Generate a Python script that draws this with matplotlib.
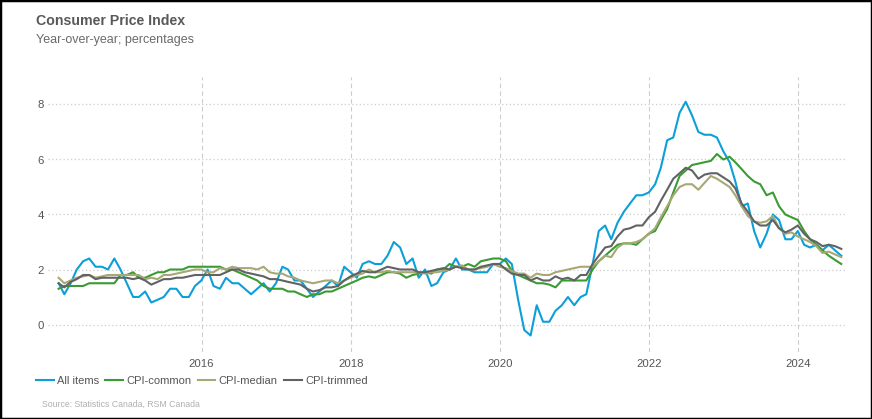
import matplotlib
matplotlib.use("Agg")
import matplotlib.pyplot as plt
import matplotlib.dates as mdates
from matplotlib.patches import Rectangle
import pandas as pd

plt.rcParams['font.family'] = ['Liberation Sans', 'DejaVu Sans']

# Monthly data, Jan 2014 - Jul 2024 (year-over-year, %)
start_month = "2014-01-31"
series_names = ["All items", "CPI-common", "CPI-median", "CPI-trimmed"]

all_items = [
    1.5, 1.1, 1.5, 2.0, 2.3, 2.4, 2.1, 2.1, 2.0, 2.4, 2.0, 1.5,
    1.0, 1.0, 1.2, 0.8, 0.9, 1.0, 1.3, 1.3, 1.0, 1.0, 1.4, 1.6,
    2.0, 1.4, 1.3, 1.7, 1.5, 1.5, 1.3, 1.1, 1.3, 1.5, 1.2, 1.5,
    2.1, 2.0, 1.6, 1.6, 1.3, 1.0, 1.2, 1.4, 1.6, 1.4, 2.1, 1.9,
    1.7, 2.2, 2.3, 2.2, 2.2, 2.5, 3.0, 2.8, 2.2, 2.4, 1.7, 2.0,
    1.4, 1.5, 1.9, 2.0, 2.4, 2.0, 2.0, 1.9, 1.9, 1.9, 2.2, 2.2,
    2.4, 2.2, 0.9, -0.2, -0.4, 0.7, 0.1, 0.1, 0.5, 0.7, 1.0, 0.7,
    1.0, 1.1, 2.2, 3.4, 3.6, 3.1, 3.7, 4.1, 4.4, 4.7, 4.7, 4.8,
    5.1, 5.7, 6.7, 6.8, 7.7, 8.1, 7.6, 7.0, 6.9, 6.9, 6.8, 6.3,
    5.9, 5.2, 4.3, 4.4, 3.4, 2.8, 3.3, 4.0, 3.8, 3.1, 3.1, 3.4,
    2.9, 2.8, 2.9, 2.7, 2.9, 2.7, 2.5,
]

cpi_common = [
    1.3, 1.4, 1.4, 1.4, 1.4, 1.5, 1.5, 1.5, 1.5, 1.5, 1.8, 1.8,
    1.9, 1.7, 1.7, 1.8, 1.9, 1.9, 2.0, 2.0, 2.0, 2.1, 2.1, 2.1,
    2.1, 2.1, 2.1, 2.0, 2.0, 1.9, 1.8, 1.7, 1.6, 1.4, 1.3, 1.3,
    1.3, 1.2, 1.2, 1.1, 1.0, 1.1, 1.1, 1.2, 1.2, 1.3, 1.4, 1.5,
    1.6, 1.7, 1.75, 1.7, 1.8, 1.9, 1.9, 1.85, 1.7, 1.8, 1.85, 1.9,
    1.85, 2.0, 2.0, 2.2, 2.1, 2.1, 2.2, 2.1, 2.3, 2.35, 2.4, 2.4,
    2.3, 1.95, 1.8, 1.7, 1.6, 1.5, 1.5, 1.45, 1.35, 1.6, 1.6, 1.6,
    1.6, 1.6, 2.0, 2.3, 2.5, 2.7, 2.9, 2.95, 2.95, 2.9, 3.1, 3.3,
    3.4, 3.8, 4.2, 4.8, 5.4, 5.6, 5.8, 5.85, 5.9, 5.95, 6.2, 6.0,
    6.1, 5.9, 5.65, 5.4, 5.2, 5.1, 4.7, 4.8, 4.3, 4.0, 3.9, 3.8,
    3.4, 3.1, 2.9, 2.7, 2.5, 2.35, 2.2,
]

cpi_median = [
    1.7, 1.5, 1.6, 1.7, 1.75, 1.8, 1.7, 1.75, 1.8, 1.8, 1.8, 1.8,
    1.8, 1.8, 1.65, 1.7, 1.65, 1.8, 1.8, 1.85, 1.9, 1.95, 2.0, 2.0,
    1.9, 1.9, 2.05, 2.0, 2.1, 2.05, 2.05, 2.05, 2.0, 2.1, 1.9, 1.85,
    1.85, 1.75, 1.7, 1.6, 1.55, 1.5, 1.55, 1.6, 1.6, 1.5, 1.6, 1.7,
    1.8, 1.85, 2.0, 1.9, 1.9, 1.95, 1.9, 1.9, 1.9, 1.9, 1.9, 1.85,
    1.9, 1.9, 1.95, 2.0, 2.1, 2.15, 2.0, 2.0, 2.05, 2.1, 2.2, 2.1,
    2.05, 1.95, 1.85, 1.85, 1.7, 1.85, 1.8, 1.8, 1.9, 1.95, 2.0, 2.05,
    2.1, 2.1, 2.1, 2.3, 2.5, 2.45, 2.8, 2.95, 2.95, 3.0, 3.1, 3.3,
    3.5, 3.9, 4.3, 4.7, 5.0, 5.1, 5.1, 4.9, 5.15, 5.4, 5.3, 5.15,
    5.0, 4.7, 4.3, 3.95, 3.75, 3.7, 3.75, 3.95, 3.5, 3.3, 3.35, 3.2,
    3.1, 3.0, 2.85, 2.6, 2.65, 2.55, 2.45,
]

cpi_trimmed = [
    1.5, 1.35, 1.55, 1.65, 1.8, 1.8, 1.65, 1.7, 1.7, 1.7, 1.7, 1.7,
    1.65, 1.7, 1.6, 1.45, 1.55, 1.65, 1.65, 1.7, 1.7, 1.75, 1.8, 1.8,
    1.8, 1.8, 1.8, 1.9, 2.0, 2.0, 1.9, 1.85, 1.8, 1.75, 1.65, 1.65,
    1.6, 1.55, 1.5, 1.45, 1.3, 1.2, 1.25, 1.35, 1.35, 1.4, 1.6, 1.75,
    1.85, 1.95, 1.9, 1.9, 2.0, 2.1, 2.05, 2.0, 2.0, 2.0, 1.9, 1.9,
    1.95, 2.0, 2.05, 2.0, 2.1, 2.05, 2.0, 2.0, 2.1, 2.15, 2.2, 2.2,
    2.0, 1.85, 1.8, 1.8, 1.6, 1.7, 1.6, 1.6, 1.75, 1.65, 1.7, 1.6,
    1.8, 1.8, 2.2, 2.5, 2.8, 2.85, 3.2, 3.45, 3.5, 3.6, 3.6, 3.9,
    4.1, 4.5, 4.9, 5.3, 5.5, 5.7, 5.6, 5.3, 5.45, 5.5, 5.5, 5.35,
    5.2, 4.95, 4.4, 4.1, 3.75, 3.6, 3.6, 3.8, 3.5, 3.35, 3.45, 3.6,
    3.3, 3.1, 3.0, 2.85, 2.9, 2.85, 2.75,
]

x_tick_years = [2016, 2018, 2020, 2022, 2024]
y_ticks = [0, 2, 4, 6, 8]

colors = ["#0c9fd8", "#3b9b33", "#a7a874", "#616264"]

dates = pd.date_range(start_month, periods=len(all_items), freq="ME")

fig = plt.figure(figsize=(8.72, 4.19), dpi=100)
ax = fig.add_axes([48 / 872, 1 - 352 / 419, (847 - 48) / 872, (352 - 77) / 419])

for name, vals, c in zip(series_names, [all_items, cpi_common, cpi_median, cpi_trimmed], colors):
    ax.plot(dates, vals, color=c, lw=1.5, label=name, solid_joinstyle="round")

ax.set_ylim(-1, 9)
ax.set_xlim(pd.Timestamp("2013-12-10"), pd.Timestamp("2024-08-28"))
ax.set_yticks(y_ticks)
ax.set_xticks([pd.Timestamp(f"{y}-01-01") for y in x_tick_years])
ax.set_xticklabels([str(y) for y in x_tick_years])

for s in ax.spines.values():
    s.set_visible(False)
ax.tick_params(axis="both", length=0, labelsize=8.2, colors="#555555")
ax.tick_params(axis="x", pad=5)
ax.tick_params(axis="y", pad=3)

ax.grid(axis="y", linestyle=(0, (1, 2)), color="#cccccc", lw=0.9)
ax.grid(axis="x", linestyle=(0, (4, 3)), color="#cccccc", lw=0.8)
ax.set_axisbelow(True)

fig.text(36 / 872, 1 - 21 / 419, "Consumer Price Index", fontsize=10.2, fontweight="bold",
         color="#595959", va="center", ha="left")
fig.text(36 / 872, 1 - 40 / 419, "Year-over-year; percentages", fontsize=9.0,
         color="#6a6a6a", va="center", ha="left")

leg = fig.legend(loc="center left", bbox_to_anchor=(36 / 872, 1 - 381 / 419), ncol=4,
                 frameon=False, fontsize=8.0, handlelength=1.6, handletextpad=0.3,
                 columnspacing=0.55, borderaxespad=0, borderpad=0)
for t in leg.get_texts():
    t.set_color("#555555")

fig.text(42 / 872, 1 - 404 / 419, "Source: Statistics Canada, RSM Canada", fontsize=6.3,
         color="#b0b0b0", va="center", ha="left")

fig.patches.append(Rectangle((0, 0), 1, 1, transform=fig.transFigure, fill=False,
                             ec="black", lw=2.5))

fig.savefig("out.png", dpi=100)
